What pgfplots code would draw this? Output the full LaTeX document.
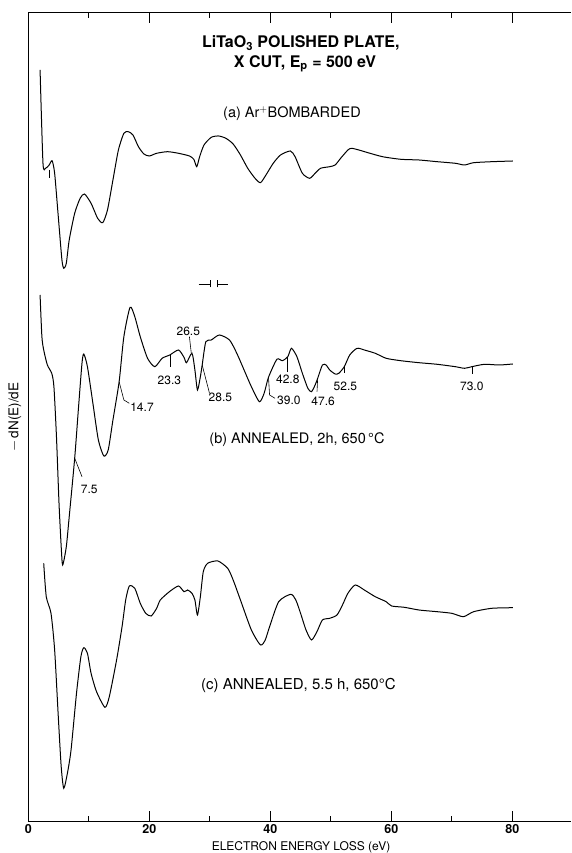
\documentclass[border=0pt]{standalone}
\usepackage{pgfplots}
\pgfplotsset{compat=1.18}
\usepackage{fontspec}
\setmainfont{TeX Gyre Heros}

% trace (a): Ar+ bombarded
\pgfplotstableread{
x y
1.946 783.0
2.427 689.7
2.849 684.7
3.451 688.0
3.933 692.3
4.354 679.7
4.957 636.3
5.559 593.0
5.860 584.7
6.281 589.7
6.763 613.0
7.666 639.7
8.570 654.7
9.292 659.0
10.376 649.7
11.460 634.7
12.303 630.3
13.086 643.0
13.989 673.0
14.892 703.0
15.795 719.7
16.518 721.3
17.301 718.0
18.204 706.3
19.107 699.0
20.011 697.0
21.215 699.7
23.021 701.3
24.828 699.7
26.634 697.0
27.357 693.7
27.839 686.3
28.320 696.3
29.043 708.0
30.247 715.7
31.452 717.0
32.656 714.7
33.860 709.0
35.064 698.0
36.269 684.7
37.473 674.7
38.376 670.3
39.279 678.0
40.483 689.7
41.687 698.0
43.313 702.0
44.096 696.3
45.300 679.7
46.504 674.7
47.408 679.7
48.311 684.7
49.816 686.3
50.719 688.0
51.622 694.7
52.827 703.0
53.429 704.7
54.633 703.0
56.139 700.3
58.547 696.3
61.558 693.7
64.569 693.0
67.580 691.3
70.591 689.7
72.096 688.0
73.601 690.3
76.612 691.3
80.105 692.0
}\traceA

% trace (b): annealed 2 h
\pgfplotstableread{
x y
1.946 558.0
2.247 516.3
2.548 503.0
3.150 488.0
3.873 479.7
4.234 466.3
4.656 416.3
5.077 349.7
5.438 306.3
5.679 288.0
6.281 306.3
6.763 336.3
7.666 394.7
8.268 443.0
8.871 489.7
9.172 499.0
9.774 486.3
10.677 449.7
11.581 413.0
12.484 397.0
13.206 403.0
13.989 433.0
15.013 471.3
15.795 516.3
16.819 545.7
17.601 536.3
18.505 516.3
19.709 494.7
20.914 486.3
22.118 494.7
23.382 498.0
24.828 503.0
25.731 495.7
26.152 490.3
27.055 499.7
27.537 483.0
27.959 463.0
28.440 476.3
28.741 488.0
29.343 511.3
30.247 513.0
31.572 518.0
33.258 513.0
34.462 499.7
35.666 483.0
36.870 466.3
38.195 451.3
38.978 459.7
39.700 475.7
41.085 493.7
41.988 492.3
42.891 496.3
43.494 504.7
44.397 496.3
45.300 479.7
46.203 464.7
46.806 461.3
47.408 468.0
47.830 474.7
48.612 488.0
49.214 488.0
49.816 483.0
50.719 479.0
51.321 479.7
52.225 486.3
53.128 498.0
54.332 504.7
55.537 503.0
57.343 499.7
59.150 494.7
61.558 492.3
64.569 490.3
67.580 488.7
70.591 486.3
72.096 484.7
73.300 486.3
75.408 488.7
77.817 488.0
80.105 489.0
}\traceB

% trace (c): annealed 5.5 h
\pgfplotstableread{
x y
2.548 289.7
2.969 256.3
3.752 239.7
4.354 203.0
4.957 136.3
5.438 86.3
5.860 64.7
6.462 79.7
7.064 103.0
7.967 159.7
8.690 196.3
9.172 205.3
9.774 199.7
10.376 179.7
11.280 161.3
12.665 145.7
13.387 156.3
14.592 193.0
15.495 226.3
16.097 253.0
16.699 267.0
17.601 264.7
18.505 249.7
19.408 239.7
20.311 237.0
21.215 244.7
21.817 253.0
23.322 261.3
24.828 267.0
25.731 261.3
26.333 263.0
27.055 259.7
27.537 253.0
27.959 238.0
28.440 256.3
28.922 281.3
29.645 289.7
31.331 292.0
32.957 284.7
33.860 273.0
35.064 253.0
36.871 223.0
38.376 208.0
39.159 213.0
39.881 226.3
41.387 251.3
43.374 258.7
44.217 253.0
45.000 239.7
45.903 223.0
46.806 213.0
47.709 221.3
48.612 233.0
49.816 234.7
51.021 238.0
51.925 248.0
52.828 259.7
54.032 268.0
55.537 263.0
57.343 256.3
59.150 251.3
60.053 247.0
62.161 245.7
64.569 243.0
67.580 241.3
69.989 239.7
71.916 236.3
73.601 241.3
76.612 244.7
80.105 245.3
}\traceC

\begin{document}
\begin{tikzpicture}[x=1pt,y=1pt]
\begin{axis}[
    at={(28.3pt,32pt)}, anchor=south west,
    scale only axis,
    width=542.7pt, height=808.3pt,
    xmin=0, xmax=89.7, ymin=32, ymax=840.3,
    axis x line*=box, axis y line*=left,
    x axis line style={-}, y axis line style={-},
    xtick={0,20,40,60,80},
    minor xtick={10,30,50,70},
    ytick=\empty,
    tick align=inside,
    major tick length=10pt, minor tick length=5pt,
    tick style={black, line width=0.7pt},
    axis line style={line width=0.6pt},
    /pgf/number format/assume math mode=true,
    xticklabel style={font=\fontsize{12.5}{14}\selectfont\bfseries, inner sep=1pt, yshift=-2pt},
    clip=false,
]
\addplot[black, line width=1pt, smooth, tension=0.4] table[x=x, y=y] {\traceA};
\addplot[black, line width=1pt, smooth, tension=0.4] table[x=x, y=y] {\traceB};
\addplot[black, line width=1pt, smooth, tension=0.4] table[x=x, y=y] {\traceC};
% peak markers
\draw[line width=0.6pt] (axis cs:3.45,683) -- (axis cs:3.45,675);
\draw[line width=0.6pt] (axis cs:7.67,394.7) -- (axis cs:8.88,376.3);
\draw[line width=0.6pt] (axis cs:15.01,471.3) -- (axis cs:15.80,453) -- (axis cs:16.69,449.7);
\draw[line width=0.6pt] (axis cs:23.39,498) -- (axis cs:23.39,486.3);
\draw[line width=0.6pt] (axis cs:26.63,516.3) -- (axis cs:26.94,499.7);
\draw[line width=0.6pt] (axis cs:28.74,488) -- (axis cs:29.95,459.7);
\draw[line width=0.6pt] (axis cs:39.70,475.7) -- (axis cs:39.88,458) -- (axis cs:40.78,454.7);
\draw[line width=0.6pt] (axis cs:42.89,496.3) -- (axis cs:42.89,481.3);
\draw[line width=0.6pt] (axis cs:47.83,474.7) -- (axis cs:47.72,461.3);
\draw[line width=0.6pt] (axis cs:52.23,486.3) -- (axis cs:52.23,479.7);
\draw[line width=0.6pt] (axis cs:73.31,486.3) -- (axis cs:73.31,479);
\end{axis}

\begin{scope}[font=\fontsize{12}{14}\selectfont]
\node[font=\fontsize{16}{18}\selectfont\bfseries] at (300.8,810) {LiTaO$_\mathbf{3}$ POLISHED PLATE,};
\node[font=\fontsize{16}{18}\selectfont\bfseries] at (305,789) {X CUT, E$_\mathbf{p}$ = 500 eV};
\node[font=\fontsize{14.5}{16}\selectfont] at (292,739.7) {(a) Ar$^+$BOMBARDED};
\node[font=\fontsize{14.5}{16}\selectfont] at (297,413) {(b) ANNEALED, 2h, 650\,°C};
\node[font=\fontsize{15}{17}\selectfont] at (298.4,168) {(c) ANNEALED, 5.5 h, 650°C};
\node[rotate=90, font=\fontsize{13.5}{15}\selectfont] at (15,436) {$-$\,dN(E)/dE};
\node at (301,6) {ELECTRON ENERGY LOSS (eV)};
\node at (89.3,364) {7.5};
\node at (142,445.3) {14.7};
\node at (169.4,473) {23.3};
\node at (188.3,522) {26.5};
\node at (220.4,455.3) {28.5};
\node at (288.9,453) {39.0};
\node at (287.8,473.7) {42.8};
\node at (323.1,451.3) {47.6};
\node at (345.4,466.3) {52.5};
\node at (471.8,466.3) {73.0};
\end{scope}
% break symbol
\draw[line width=0.6pt] (198.5,569) -- (210.6,569) (210.6,565.5) -- (210.6,572.5)
  (216.8,565.5) -- (216.8,572.5) (216.8,569) -- (227.7,569);

\pgfresetboundingbox
\path[use as bounding box] (0,0) rectangle (571,853);
\end{tikzpicture}
\end{document}
